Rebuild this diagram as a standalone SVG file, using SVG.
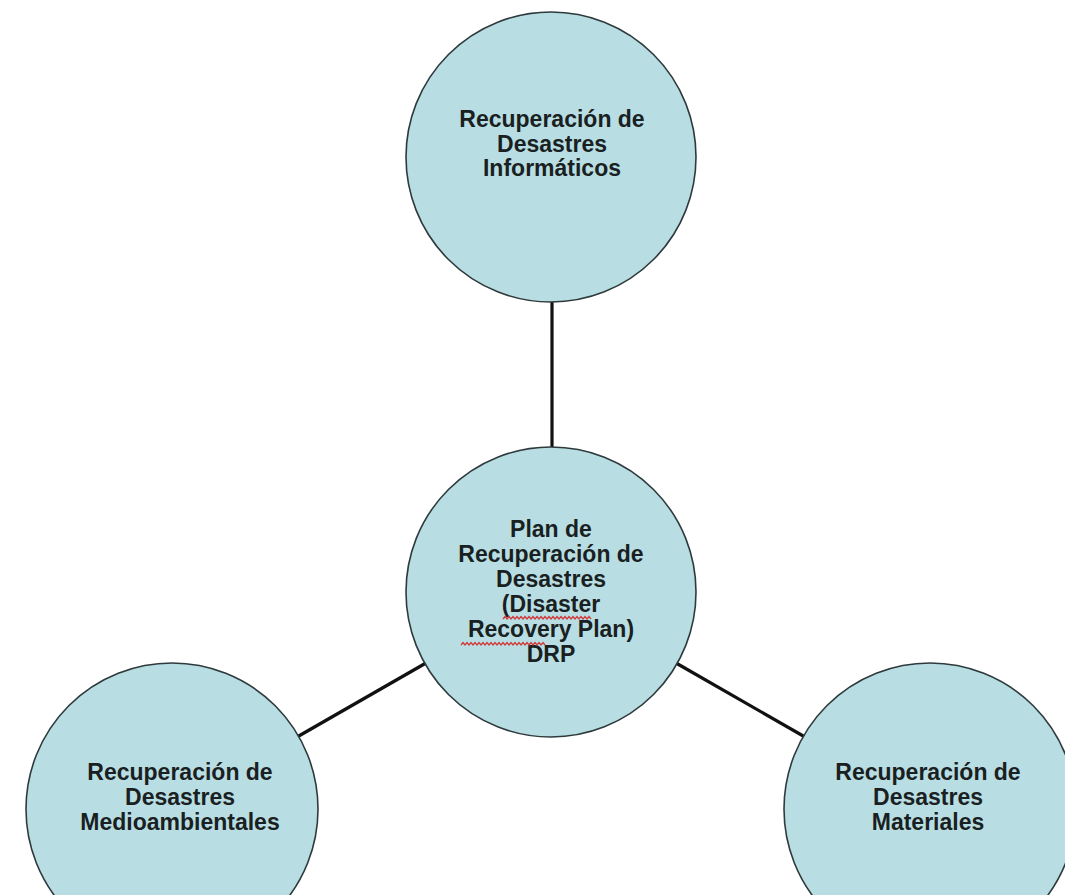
<svg xmlns="http://www.w3.org/2000/svg" width="1065" height="895" viewBox="0 0 1065 895">
  <style>
    .node { fill: #b8dee4; stroke: #2e3a3c; stroke-width: 1.6; }
    .lbl { font-family: "Liberation Sans", Arial, sans-serif; font-weight: bold; font-size: 23px; fill: #1a1f22; text-anchor: middle; }
    .conn { stroke: #111; stroke-width: 3.2; fill: none; }
    .squig { stroke: #d23a3a; stroke-width: 1.3; fill: none; }
  </style>
  <rect x="0" y="0" width="1065" height="895" fill="#ffffff"/>
  <g id="connectors">
    <line class="conn" x1="552" y1="300" x2="552" y2="449"/>
    <line class="conn" x1="426" y1="663" x2="297" y2="737"/>
    <line class="conn" x1="676" y1="663" x2="805" y2="737"/>
  </g>
  <g id="node-informaticos">
    <circle class="node" cx="551" cy="157" r="145"/>
    <text class="lbl"><tspan x="552" y="127">Recuperación de</tspan><tspan x="552" y="151.5">Desastres</tspan><tspan x="552" y="176">Informáticos</tspan></text>
  </g>
  <g id="node-drp">
    <circle class="node" cx="551" cy="592" r="145"/>
    <text class="lbl"><tspan x="551" y="537">Plan de</tspan><tspan x="551" y="562">Recuperación de</tspan><tspan x="551" y="587">Desastres</tspan><tspan x="551" y="612">(Disaster</tspan><tspan x="551" y="637">Recovery Plan)</tspan><tspan x="551" y="662">DRP</tspan></text>
    <path class="squig" d="M503 619 l2 -2.5 l2 2.5 l2 -2.5 l2 2.5 l2 -2.5 l2 2.5 l2 -2.5 l2 2.5 l2 -2.5 l2 2.5 l2 -2.5 l2 2.5 l2 -2.5 l2 2.5 l2 -2.5 l2 2.5 l2 -2.5 l2 2.5 l2 -2.5 l2 2.5 l2 -2.5 l2 2.5 l2 -2.5 l2 2.5 l2 -2.5 l2 2.5 l2 -2.5 l2 2.5 l2 -2.5 l2 2.5 l2 -2.5 l2 2.5 l2 -2.5 l2 2.5 l2 -2.5 l2 2.5 l2 -2.5 l2 2.5 l2 -2.5 l2 2.5 l2 -2.5 l2 2.5 l2 -2.5 l2 2.5"/>
    <path class="squig" d="M461 645 l2 -2.5 l2 2.5 l2 -2.5 l2 2.5 l2 -2.5 l2 2.5 l2 -2.5 l2 2.5 l2 -2.5 l2 2.5 l2 -2.5 l2 2.5 l2 -2.5 l2 2.5 l2 -2.5 l2 2.5 l2 -2.5 l2 2.5 l2 -2.5 l2 2.5 l2 -2.5 l2 2.5 l2 -2.5 l2 2.5 l2 -2.5 l2 2.5 l2 -2.5 l2 2.5 l2 -2.5 l2 2.5 l2 -2.5 l2 2.5 l2 -2.5 l2 2.5 l2 -2.5 l2 2.5 l2 -2.5 l2 2.5 l2 -2.5 l2 2.5 l2 -2.5 l2 2.5"/>
  </g>
  <g id="node-medioambientales">
    <circle class="node" cx="172" cy="809" r="146"/>
    <text class="lbl"><tspan x="180" y="780">Recuperación de</tspan><tspan x="180" y="805">Desastres</tspan><tspan x="180" y="830">Medioambientales</tspan></text>
  </g>
  <g id="node-materiales">
    <circle class="node" cx="930" cy="809" r="146"/>
    <text class="lbl"><tspan x="928" y="780">Recuperación de</tspan><tspan x="928" y="805">Desastres</tspan><tspan x="928" y="830">Materiales</tspan></text>
  </g>
</svg>
